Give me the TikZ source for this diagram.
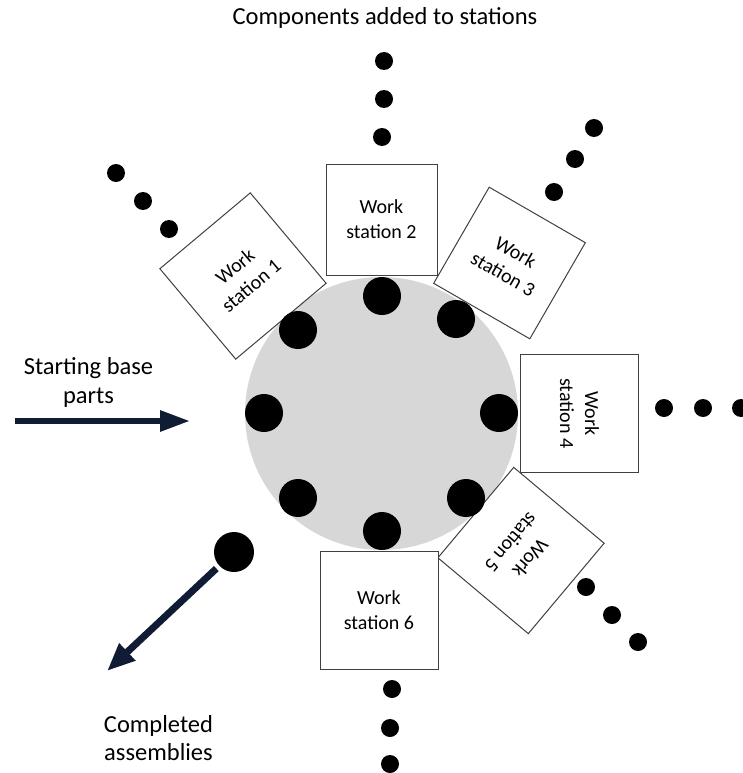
\documentclass[tikz,border=0pt]{standalone}
\usepackage{fontspec}
\setmainfont{Carlito}
\usetikzlibrary{arrows.meta}
\definecolor{navy}{RGB}{16,28,52}
\definecolor{disc}{RGB}{215,215,215}
\definecolor{edge}{RGB}{64,64,64}
\begin{document}
\begin{tikzpicture}[x=1pt,y=-1pt,
  station/.style={draw=edge, line width=1pt, fill=white, rectangle, minimum size=118pt, inner sep=0pt, align=center, font=\fontsize{20}{25}\selectfont},
  smallbox/.style={minimum size=111pt},
  dot/.style={circle, fill=black, minimum size=18pt, inner sep=0pt},
  pallet/.style={circle, fill=black, minimum size=38pt, inner sep=0pt},
  label/.style={font=\fontsize{24.5}{29}\selectfont, align=center, inner sep=0pt},
  flow/.style={draw=navy, line width=6pt, -{Triangle[length=30pt,width=20pt]}}
]
\useasboundingbox (0,0) rectangle (742,773);
% rotary table
\node[circle, fill=disc, minimum size=273pt, inner sep=0pt] (table) at (381.5,413.5) {};
% stations
\node[station, rotate=40] (ws1) at (243,276) {Work\\station 1};
\node[station, smallbox] (ws2) at (381.5,219.5) {Work\\station 2};
\node[station, smallbox, rotate=-30] (ws3) at (509.5,263) {Work\\station 3};
\node[station, rotate=-90] (ws4) at (579.5,413.5) {Work\\station 4};
\node[station, rotate=230] (ws5) at (521,550.5) {Work\\station 5};
\node[station] (ws6) at (379,610) {Work\\station 6};
% pallets on table
\node[pallet] (p1) at (382,296) {};
\node[pallet] (p2) at (456,319) {};
\node[pallet] (p3) at (499,413) {};
\node[pallet] (p4) at (466,498) {};
\node[pallet] (p5) at (382,531) {};
\node[pallet] (p6) at (298,498) {};
\node[pallet] (p7) at (264,413) {};
\node[pallet] (p8) at (298,330) {};
% component feeds
\node[dot] (a1) at (116,173) {};
\node[dot] (a2) at (143,201) {};
\node[dot] (a3) at (169,229) {};
\node[dot] (b1) at (384,61) {};
\node[dot] (b2) at (384,99) {};
\node[dot] (b3) at (382,137) {};
\node[dot] (c1) at (594,128) {};
\node[dot] (c2) at (575,159) {};
\node[dot] (c3) at (554,192) {};
\node[dot] (d1) at (664,408) {};
\node[dot] (d2) at (703,408) {};
\node[dot] (d3) at (741,408) {};
\node[dot] (e1) at (586,587) {};
\node[dot] (e2) at (612,615) {};
\node[dot] (e3) at (638,642) {};
\node[dot] (f1) at (392,689) {};
\node[dot] (f2) at (390,728) {};
\node[dot] (f3) at (390,764) {};
% completed part
\node[pallet, minimum size=40pt] (big) at (234,552) {};
% arrows
\coordinate (sA) at (15,421);
\coordinate (sB) at (190,421);
\draw[flow] (sA) -- (sB);
\coordinate (cEnd) at (107,671);
\draw[flow, line width=7pt, -{Triangle[length=28pt,width=22pt]}, shorten <=4pt] (big) -- (cEnd);
% labels
\node[label] (title) at (385,18) {Components added to stations};
\node[label] (start) at (88.5,382) {Starting base\\parts};
\node[label, font=\fontsize{24.5}{28}\selectfont] (done) at (158.5,738) {Completed\\assemblies};
\end{tikzpicture}
\end{document}
